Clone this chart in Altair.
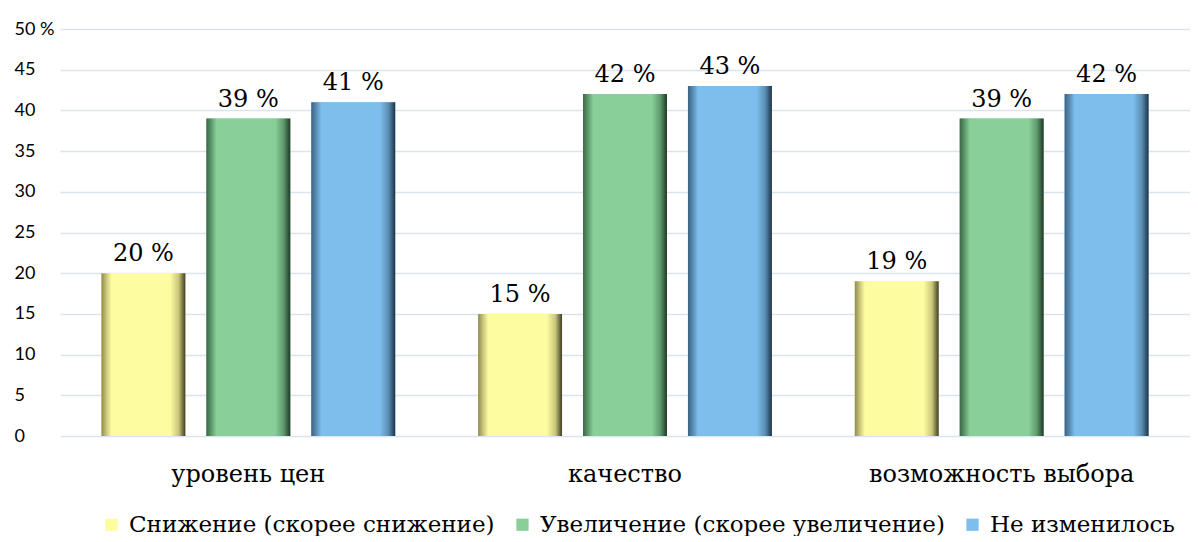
import altair as alt
import pandas as pd

categories = ["уровень цен", "качество", "возможность выбора"]
series = ["Снижение (скорее снижение)", "Увеличение (скорее увеличение)", "Не изменилось"]
decrease = [20, 15, 19]
increase = [39, 42, 39]
unchanged = [41, 43, 42]
colors = ["#FDFCA0", "#88CF9A", "#7DBEEC"]
shades = [
    ["#C9C67A", "#8E8B4F", "#3F3D25"],
    ["#5E9A6C", "#3C6647", "#1F3826"],
    ["#5A8DB3", "#3A6383", "#1C3447"],
]
SERIF = "DejaVu Serif"

rows = []
for s, vals in zip(series, [decrease, increase, unchanged]):
    for c, v in zip(categories, vals):
        rows.append({"cat": c, "series": s, "value": v, "label": f"{v} %"})
df = pd.DataFrame(rows)

x_enc = alt.X("cat:N", sort=categories, title=None,
              scale=alt.Scale(domain=categories, paddingInner=0.22, paddingOuter=0.11),
              axis=alt.Axis(labelFont=SERIF, labelFontSize=24, labelColor="#000000",
                            labelPadding=26, tickSize=0, domain=False, grid=False,
                            labelAngle=0, labelLimit=600))
xo_enc = alt.XOffset("series:N", sort=series,
                     scale=alt.Scale(domain=series, paddingInner=0.2, paddingOuter=0))
y_enc = alt.Y("value:Q", title=None,
              scale=alt.Scale(domain=[0, 50], nice=False),
              axis=alt.Axis(values=list(range(0, 51, 5)), labelFont="Lato", labelFontSize=18,
                            labelColor="#000000", labelAlign="left", labelPadding=46,
                            tickSize=0, domain=False, grid=True, gridColor="#D9E4EF",
                            gridWidth=1.5,
                            labelExpr="datum.value == 50 ? '50 %' : datum.label"))

base = alt.Chart(df).encode(x=x_enc, xOffset=xo_enc, y=y_enc)

bars = base.mark_bar().encode(
    color=alt.Color("series:N", sort=series,
                    scale=alt.Scale(domain=series, range=colors),
                    legend=alt.Legend(title=None, orient="none", legendX=40, legendY=484,
                                      direction="horizontal", columns=3,
                                      symbolType="square", symbolSize=150,
                                      symbolStrokeWidth=0, labelFont=SERIF,
                                      labelFontSize=23, labelColor="#000000",
                                      labelLimit=600, columnPadding=16, labelOffset=6))
)

layers = [bars]
for s, c, sh in zip(series, colors, shades):
    grad = alt.LinearGradient(
        gradient="linear", x1=0, x2=1, y1=0, y2=0,
        stops=[
            alt.GradientStop(offset=0, color=sh[1]),
            alt.GradientStop(offset=0.06, color=sh[0]),
            alt.GradientStop(offset=0.12, color=c),
            alt.GradientStop(offset=0.82, color=c),
            alt.GradientStop(offset=0.92, color=sh[0]),
            alt.GradientStop(offset=1, color=sh[2]),
        ],
    )
    layers.append(base.mark_bar(fill=grad).transform_filter(alt.datum.series == s))

text = base.mark_text(font=SERIF, fontSize=24, baseline="bottom",
                      dy=-7, color="#000000").encode(text="label:N")
layers.append(text)

chart = alt.layer(*layers).properties(
    width=1130, height=407,
    autosize=alt.AutoSizeParams(type="none"),
    padding={"left": 52, "top": 21, "right": 0, "bottom": 100},
).configure_view(stroke=None)

chart.save("out.html", embed_options={"renderer": "svg", "actions": False})
